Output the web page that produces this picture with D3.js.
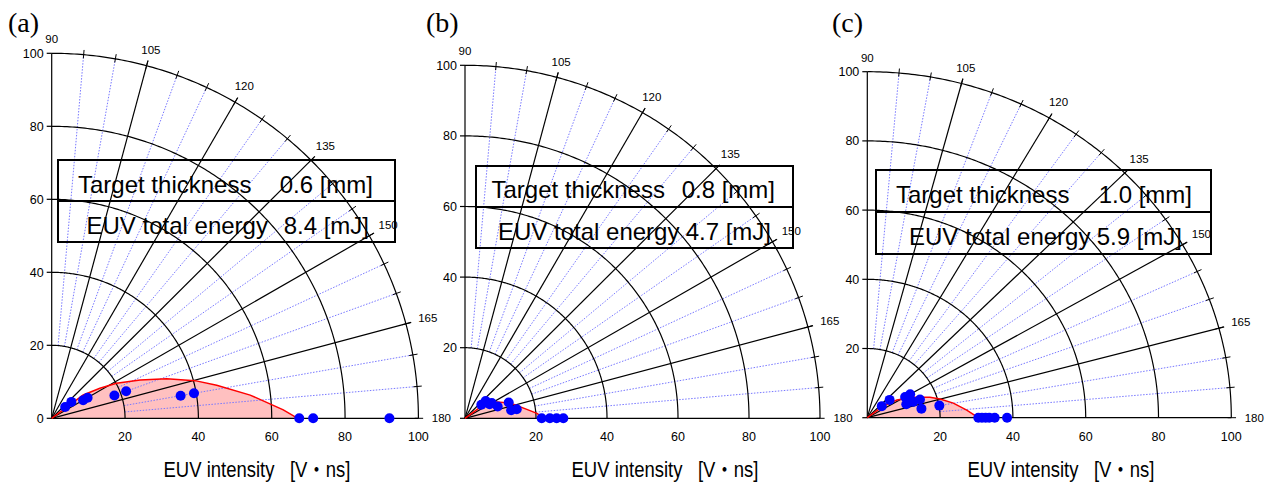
<!DOCTYPE html>
<html>
<head>
<meta charset="utf-8">
<script src="https://cdn.jsdelivr.net/npm/d3@7"></script>
<style>
  body { margin: 0; background: #fff; }
  svg { display: block; }
  text { font-family: "Liberation Sans", Arial, "Noto Sans CJK JP", sans-serif; }
</style>
</head>
<body>
<script>
// ---- data ----
const panelNames = ['(a)', '(b)', '(c)'];
const thickness = ['0.6', '0.8', '1.0'];
const totalEnergy = ['8.4', '4.7', '5.9'];

const angleLabels = [90, 105, 120, 135, 150, 165, 180];
const radiusTicks = [0, 20, 40, 60, 80, 100];
const xTickLabels = [20, 40, 60, 80, 100];

// measured points, angle [deg] / EUV intensity [V ns]
const dotsAngleA = [140, 140, 150, 150, 160, 160, 170, 170, 180, 180, 180];
const dotsRA = [4.8, 7.0, 9.9, 11.3, 18.2, 21.6, 35.7, 39.4, 67.5, 71.3, 92.1];
const dotsAngleB = [140, 140, 150, 150, 160, 160, 170, 170, 180, 180, 180, 180];
const dotsRB = [6.0, 7.6, 8.0, 8.7, 9.8, 13.1, 13.2, 14.8, 21.6, 23.9, 25.8, 27.7];
const dotsAngleC = [140, 140, 150, 150, 160, 160, 160, 170, 170, 180, 180, 180, 180, 180, 180];
const dotsRC = [5.2, 8.0, 12.0, 13.6, 11.4, 13.4, 15.4, 15.1, 20.1, 30.5, 31.5, 32.5, 33.5, 35.0, 38.4];

// red fitted curves
const curveAngleA = [142, 143.4, 148, 151.5, 156.5, 160.9, 165.2, 168.6, 173.3, 177.9, 180];
const curveRA = [0, 10.7, 15.5, 20.1, 26.3, 33.2, 40.4, 45.9, 54.5, 63.2, 67.1];
const curveAngleB = [141, 143.6, 149.6, 157.4, 163.7, 171.7, 176, 180];
const curveRB = [0, 5.2, 9.3, 11.7, 14.2, 17.6, 20.3, 22.4];
const curveAngleC = [141, 142.3, 147.8, 154.9, 161, 164.9, 169.9, 175.4, 180];
const curveRC = [0, 5.6, 9.6, 13.9, 18.2, 20.7, 24, 27.4, 30.5];

const dotsAngle = [dotsAngleA, dotsAngleB, dotsAngleC];
const dotsR = [dotsRA, dotsRB, dotsRC];
const curveAngle = [curveAngleA, curveAngleB, curveAngleC];
const curveR = [curveRA, curveRB, curveRC];

// ---- layout ----
const W = 1266, H = 483;
const layout = [
  { ox: 51.7, oy: 418.3, rx: 366.7, ry: 365, lx: 8, ly: 32,
    box: [58, 160, 337, 82], t1: [78, 192.5], v1: 373, t2: [86.5, 233.5], v2: 369, title: 257, zero: true },
  { ox: 465, oy: 418.3, rx: 355, ry: 353, lx: 426, ly: 32,
    box: [476, 166, 317, 82], t1: [491.5, 198], v1: 775, t2: [498, 240], v2: 771, title: 665, zero: false },
  { ox: 867.3, oy: 417.7, rx: 364, ry: 346, lx: 832, ly: 32,
    box: [876, 170, 335, 84], t1: [896, 203], v1: 1192, t2: [909, 245], v2: 1182, title: 1061, zero: false }
];

const svg = d3.select('body').append('svg')
  .attr('width', W).attr('height', H);

const rad = a => (180 - a) * Math.PI / 180;

layout.forEach((L, i) => {
  const x = d3.scaleLinear().domain([0, 100]).range([L.ox, L.ox + L.rx]);
  const y = d3.scaleLinear().domain([0, 100]).range([L.oy, L.oy - L.ry]);
  const pt = (a, r) => [x(r * Math.cos(rad(a))), y(r * Math.sin(rad(a)))];
  const g = svg.append('g');

  // pink fill under red curve
  const cpts = curveAngle[i].map((a, k) => pt(a, curveR[i][k]));
  g.append('path')
    .attr('d', d3.line()(cpts.concat([pt(180, 0)])) + 'Z')
    .attr('fill', '#ffc0c0').attr('stroke', 'none');

  // dotted blue spokes every 5 deg
  const fine = d3.range(95, 180, 5).filter(a => a % 15 !== 0);
  fine.forEach(a => {
    g.append('line')
      .attr('x1', pt(a, 20)[0]).attr('y1', pt(a, 20)[1])
      .attr('x2', pt(a, 100)[0]).attr('y2', pt(a, 100)[1])
      .attr('stroke', '#7878ff').attr('stroke-width', 1)
      .attr('stroke-dasharray', '1.5,1.5');
  });

  // arcs
  const arcAngles = d3.range(90, 180.01, 0.5);
  radiusTicks.filter(r => r > 0).forEach(r => {
    g.append('path')
      .attr('d', d3.line()(arcAngles.map(a => pt(a, r))))
      .attr('fill', 'none').attr('stroke', '#000').attr('stroke-width', 1.2);
  });

  // main spokes
  angleLabels.forEach(a => {
    const end = (a === 90 || a === 180) ? 100 : 101.5;
    g.append('line')
      .attr('x1', pt(a, 0)[0]).attr('y1', pt(a, 0)[1])
      .attr('x2', pt(a, end)[0]).attr('y2', pt(a, end)[1])
      .attr('stroke', '#000').attr('stroke-width', 1.2);
  });

  // small ticks on outer arc
  d3.range(95, 181, 5).forEach(a => {
    g.append('line')
      .attr('x1', pt(a, 99)[0]).attr('y1', pt(a, 99)[1])
      .attr('x2', pt(a, 101.3)[0]).attr('y2', pt(a, 101.3)[1])
      .attr('stroke', '#000').attr('stroke-width', 1);
  });

  // y axis ticks + labels
  radiusTicks.forEach(r => {
    g.append('line')
      .attr('x1', L.ox - 5).attr('x2', L.ox)
      .attr('y1', y(r)).attr('y2', y(r))
      .attr('stroke', '#000').attr('stroke-width', 1.2);
    if (r === 0 && !L.zero) return;
    g.append('text')
      .attr('x', L.ox - 8).attr('y', y(r) + 4.5)
      .attr('text-anchor', 'end').attr('font-size', 12.5)
      .text(r);
  });

  // x labels
  xTickLabels.forEach(v => {
    g.append('text')
      .attr('x', x(v)).attr('y', L.oy + 23)
      .attr('text-anchor', 'middle').attr('font-size', 12.5)
      .text(v);
  });

  // angle labels
  angleLabels.forEach(a => {
    const e = rad(a);
    const d = 14 + 9 * Math.cos(e);
    const p = pt(a, 100);
    g.append('text')
      .attr('x', p[0] + d * Math.cos(e))
      .attr('y', p[1] - d * Math.sin(e) + 4)
      .attr('text-anchor', 'middle').attr('font-size', 11.5)
      .text(a);
  });

  // red curve
  g.append('path')
    .attr('d', d3.line()(cpts))
    .attr('fill', 'none').attr('stroke', '#ff0000').attr('stroke-width', 1.5);

  // blue dots
  g.selectAll('circle.dot')
    .data(dotsAngle[i].map((a, k) => pt(a, dotsR[i][k])))
    .join('circle')
    .attr('cx', d => d[0]).attr('cy', d => d[1]).attr('r', 5)
    .attr('fill', '#0000ff');

  // info box
  const [bx, by, bw, bh] = L.box;
  g.append('rect')
    .attr('x', bx).attr('y', by).attr('width', bw).attr('height', bh)
    .attr('fill', 'none').attr('stroke', '#000').attr('stroke-width', 2);
  g.append('line')
    .attr('x1', bx).attr('x2', bx + bw).attr('y1', by + bh / 2).attr('y2', by + bh / 2)
    .attr('stroke', '#000').attr('stroke-width', 2);
  g.append('text').attr('x', L.t1[0]).attr('y', L.t1[1]).attr('font-size', 24)
    .text('Target thickness');
  g.append('text').attr('x', L.v1).attr('y', L.t1[1]).attr('font-size', 24)
    .attr('text-anchor', 'end').text(thickness[i] + ' [mm]');
  g.append('text').attr('x', L.t2[0]).attr('y', L.t2[1]).attr('font-size', 24)
    .text('EUV total energy');
  g.append('text').attr('x', L.v2).attr('y', L.t2[1]).attr('font-size', 24)
    .attr('text-anchor', 'end').text(totalEnergy[i] + ' [mJ]');

  // axis title
  g.append('text')
    .attr('x', L.title).attr('y', 477)
    .attr('text-anchor', 'middle').attr('font-size', 22)
    .attr('textLength', 187).attr('lengthAdjust', 'spacingAndGlyphs')
    .text('EUV intensity\u00a0\u00a0 [V\u30fbns]');

  // panel letter
  svg.append('text')
    .attr('x', L.lx).attr('y', L.ly)
    .style('font-family', '"Liberation Serif", "Times New Roman", serif')
    .attr('font-size', 28)
    .text(panelNames[i]);
});
</script>
</body>
</html>
